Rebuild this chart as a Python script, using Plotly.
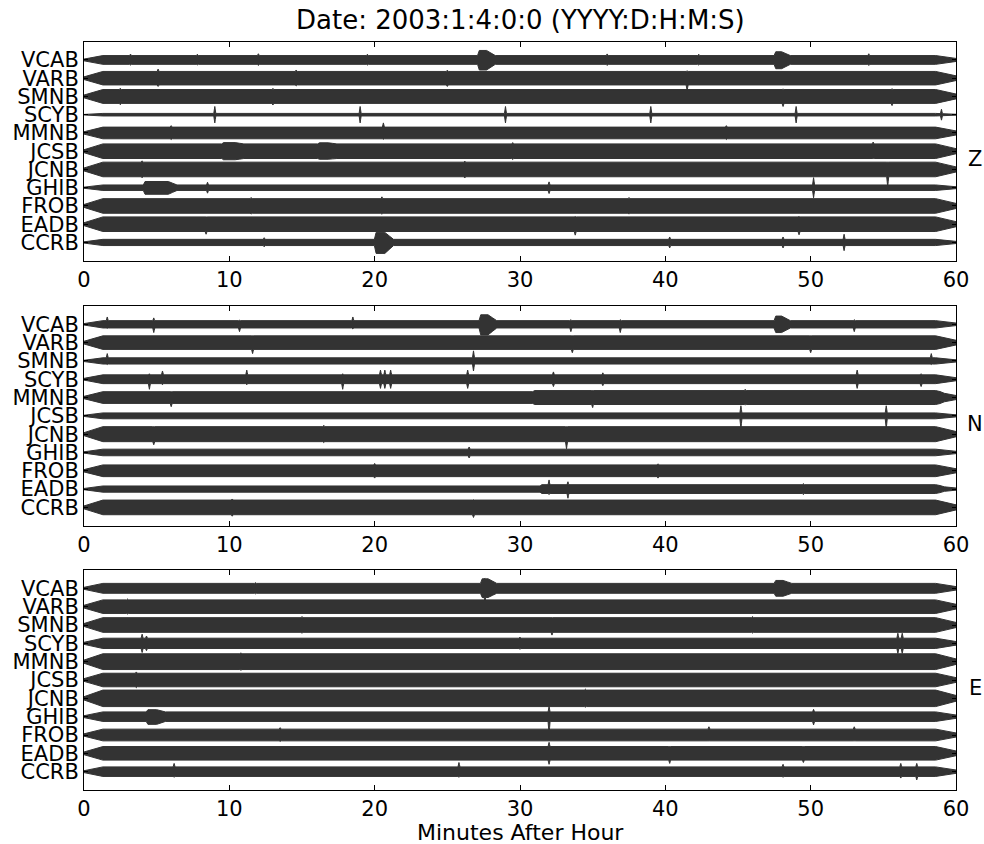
import plotly.graph_objects as go

# ---------------- data ----------------
STATIONS = ["VCAB", "VARB", "SMNB", "SCYB", "MMNB", "JCSB",
            "JCNB", "GHIB", "FROB", "EADB", "CCRB"]          # top -> bottom
COMPONENTS = ["Z", "N", "E"]
X_TICKS = [0, 10, 20, 30, 40, 50, 60]
TITLE = "Date: 2003:1:4:0:0 (YYYY:D:H:M:S)"
X_LABEL = "Minutes After Hour"

# typical half-amplitude of each trace (in units of trace spacing), per component
Z_AMP = [0.24, 0.37, 0.38, 0.07, 0.32, 0.40, 0.40, 0.15, 0.40, 0.40, 0.17]
N_AMP = [0.20, 0.37, 0.17, 0.24, 0.32, 0.16, 0.41, 0.18, 0.32, 0.17, 0.40]
E_AMP = [0.27, 0.37, 0.40, 0.28, 0.43, 0.37, 0.45, 0.26, 0.32, 0.37, 0.26]

# impulsive arrivals and small bursts: (station, minute, up, down)
Z_SPIKES = [
    ("VCAB", 3.2, 0.32, 0.28), ("VCAB", 7.8, 0.31, 0.27), ("VCAB", 12.0, 0.34, 0.30),
    ("VCAB", 19.5, 0.31, 0.28), ("VCAB", 36.0, 0.33, 0.30), ("VCAB", 42.3, 0.31, 0.28),
    ("VCAB", 54.0, 0.34, 0.30),
    ("VARB", 5.1, 0.50, 0.45), ("VARB", 14.6, 0.45, 0.42), ("VARB", 25.0, 0.44, 0.45),
    ("VARB", 41.5, 0.40, 0.67),
    ("SMNB", 2.5, 0.45, 0.45), ("SMNB", 13.0, 0.44, 0.47), ("SMNB", 48.1, 0.40, 0.55),
    ("SMNB", 55.6, 0.42, 0.50),
    ("SCYB", 9.0, 0.45, 0.45), ("SCYB", 19.0, 0.45, 0.45), ("SCYB", 29.0, 0.45, 0.45),
    ("SCYB", 39.0, 0.45, 0.45), ("SCYB", 49.0, 0.45, 0.45), ("SCYB", 59.0, 0.30, 0.30),
    ("MMNB", 6.0, 0.40, 0.36), ("MMNB", 20.6, 0.55, 0.35), ("MMNB", 44.2, 0.40, 0.36),
    ("JCSB", 29.5, 0.47, 0.45), ("JCSB", 54.3, 0.50, 0.40),
    ("JCNB", 4.0, 0.47, 0.46), ("JCNB", 26.2, 0.46, 0.47), ("JCNB", 55.3, 0.40, 0.95),
    ("GHIB", 8.5, 0.30, 0.30), ("GHIB", 32.0, 0.32, 0.32), ("GHIB", 50.2, 0.55, 0.55),
    ("FROB", 11.5, 0.46, 0.44), ("FROB", 20.5, 0.50, 0.45), ("FROB", 37.5, 0.46, 0.44),
    ("EADB", 8.4, 0.40, 0.55), ("EADB", 33.8, 0.42, 0.60), ("EADB", 49.2, 0.42, 0.58),
    ("CCRB", 12.4, 0.26, 0.24), ("CCRB", 40.3, 0.30, 0.30), ("CCRB", 48.1, 0.30, 0.30),
    ("CCRB", 52.3, 0.45, 0.45),
]
N_SPIKES = [
    ("VCAB", 1.6, 0.40, 0.22), ("VCAB", 4.8, 0.35, 0.45), ("VCAB", 10.7, 0.22, 0.40),
    ("VCAB", 18.5, 0.40, 0.25), ("VCAB", 33.5, 0.25, 0.40), ("VCAB", 36.9, 0.25, 0.45),
    ("VCAB", 53.0, 0.25, 0.40),
    ("VARB", 11.6, 0.37, 0.60), ("VARB", 33.6, 0.37, 0.55), ("VARB", 50.0, 0.37, 0.55),
    ("SMNB", 1.6, 0.40, 0.20), ("SMNB", 26.8, 0.55, 0.55), ("SMNB", 58.3, 0.40, 0.20),
    ("SCYB", 4.5, 0.30, 0.55), ("SCYB", 5.4, 0.45, 0.30), ("SCYB", 11.2, 0.50, 0.30),
    ("SCYB", 17.8, 0.30, 0.55), ("SCYB", 20.4, 0.50, 0.50), ("SCYB", 20.7, 0.50, 0.50),
    ("SCYB", 21.1, 0.50, 0.50), ("SCYB", 26.4, 0.50, 0.50), ("SCYB", 32.3, 0.40, 0.40),
    ("SCYB", 35.7, 0.35, 0.35), ("SCYB", 53.2, 0.50, 0.50), ("SCYB", 57.6, 0.30, 0.40),
    ("MMNB", 6.0, 0.32, 0.50), ("MMNB", 35.0, 0.38, 0.55), ("MMNB", 45.5, 0.45, 0.40),
    ("JCSB", 45.2, 0.55, 0.70), ("JCSB", 55.2, 0.55, 0.70),
    ("JCNB", 4.8, 0.41, 0.58), ("JCNB", 16.5, 0.48, 0.46), ("JCNB", 33.2, 0.41, 0.80),
    ("GHIB", 26.5, 0.30, 0.30),
    ("FROB", 20.0, 0.40, 0.40), ("FROB", 39.5, 0.38, 0.40),
    ("EADB", 32.0, 0.50, 0.30), ("EADB", 33.3, 0.40, 0.50), ("EADB", 49.5, 0.30, 0.30),
    ("CCRB", 10.2, 0.46, 0.48), ("CCRB", 26.8, 0.42, 0.55),
]
E_SPIKES = [
    ("VCAB", 27.6, 0.55, 0.75), ("VCAB", 11.8, 0.31, 0.30),
    ("VARB", 3.0, 0.42, 0.40),
    ("SMNB", 15.0, 0.46, 0.45), ("SMNB", 32.2, 0.40, 0.55), ("SMNB", 46.0, 0.46, 0.44),
    ("SCYB", 4.0, 0.50, 0.50), ("SCYB", 4.3, 0.40, 0.40), ("SCYB", 30.0, 0.34, 0.32),
    ("SCYB", 56.0, 0.55, 0.55), ("SCYB", 56.3, 0.55, 0.55),
    ("MMNB", 10.8, 0.48, 0.47),
    ("JCSB", 3.6, 0.44, 0.42),
    ("JCNB", 34.5, 0.50, 0.48),
    ("GHIB", 32.0, 0.55, 0.95), ("GHIB", 50.2, 0.40, 0.45),
    ("FROB", 13.5, 0.40, 0.35), ("FROB", 43.0, 0.45, 0.32), ("FROB", 53.0, 0.45, 0.32),
    ("EADB", 32.0, 0.60, 0.60), ("EADB", 40.3, 0.37, 0.55), ("EADB", 49.5, 0.37, 0.50),
    ("CCRB", 6.2, 0.45, 0.30), ("CCRB", 25.8, 0.50, 0.30), ("CCRB", 48.1, 0.40, 0.30),
    ("CCRB", 56.2, 0.45, 0.35), ("CCRB", 57.3, 0.45, 0.45),
]

# emergent wave packets / changes of noise level: (station, start, end, up, down)
Z_PACKETS = [
    ("VCAB", 27.2, 27.7, 0.52, 0.55), ("VCAB", 47.6, 48.0, 0.45, 0.48),
    ("JCSB", 9.6, 10.4, 0.47, 0.47), ("JCSB", 16.2, 16.8, 0.46, 0.44),
    ("GHIB", 4.2, 5.8, 0.34, 0.36),
    ("CCRB", 20.1, 20.7, 0.55, 0.60),
]
N_PACKETS = [
    ("VCAB", 27.3, 27.8, 0.52, 0.58), ("VCAB", 47.6, 48.0, 0.45, 0.45),
    ("MMNB", 31.0, 58.6, 0.38, 0.38),
    ("EADB", 31.5, 58.6, 0.24, 0.24),
]
E_PACKETS = [
    ("VCAB", 27.4, 27.8, 0.52, 0.50), ("VCAB", 47.6, 48.1, 0.43, 0.43),
    ("GHIB", 4.4, 5.0, 0.38, 0.42),
]

# ---------------- geometry helpers (style only) ----------------
TAPER_START, TAPER_END = 1.3, 58.6
SPIKE_RAMP = 0.07
ONSET_RAMP, DECAY_RAMP = 0.12, 0.6
FONT = "DejaVu Sans"
TRACE_COLOR = "#333333"

def base_factor(t):
    if t < TAPER_START:
        return 0.2 + 0.8 * t / TAPER_START
    if t > TAPER_END:
        return 1.0 - 0.65 * (t - TAPER_END) / (60 - TAPER_END)
    return 1.0

def window(t, a, b, r_on, r_off):
    if a <= t <= b:
        return 1.0
    if t < a:
        return max(0.0, 1.0 - (a - t) / r_on)
    return max(0.0, 1.0 - (t - b) / r_off)

def envelope(amp, items):
    ts = {0.0, TAPER_START, TAPER_END, 60.0}
    for (a, b, up, dn, r_on, r_off) in items:
        for v in (a - r_on, a, b, b + r_off / 2, b + r_off):
            if 0 <= v <= 60:
                ts.add(round(v, 4))
    ts = sorted(ts)
    ups, dns = [], []
    for t in ts:
        base = amp * base_factor(t)
        u = d = base
        for (a, b, up, dn, r_on, r_off) in items:
            w = window(t, a, b, r_on, r_off)
            if w > 0:
                u = max(u, base + (up - base) * w)
                d = max(d, base + (dn - base) * w)
        ups.append(u)
        dns.append(d)
    return ts, ups, dns

fig = go.Figure()

PANEL_DATA = [(Z_AMP, Z_SPIKES, Z_PACKETS), (N_AMP, N_SPIKES, N_PACKETS),
              (E_AMP, E_SPIKES, E_PACKETS)]
H = 844.0
PANEL_PX = [(41.7, 260.7), (306.0, 525.7), (570.0, 790.0)]

for p, (amps, spikes, packets) in enumerate(PANEL_DATA):
    xa = "x" if p == 0 else f"x{p+1}"
    ya = "y" if p == 0 else f"y{p+1}"
    for i, st in enumerate(STATIONS):
        pos = len(STATIONS) - 1 - i
        items = [(m, m, u, d, SPIKE_RAMP, SPIKE_RAMP) for (s, m, u, d) in spikes if s == st]
        items += [(a, b, u, d, ONSET_RAMP, DECAY_RAMP) for (s, a, b, u, d) in packets if s == st]
        ts, ups, dns = envelope(amps[i], items)
        xs = ts + ts[::-1] + [ts[0]]
        ys = [pos + u for u in ups] + [pos - d for d in dns[::-1]] + [pos + ups[0]]
        fig.add_trace(go.Scatter(
            x=xs, y=ys, mode="lines", fill="toself", fillcolor=TRACE_COLOR,
            line=dict(color=TRACE_COLOR, width=1, simplify=False),
            hoverinfo="skip", showlegend=False, xaxis=xa, yaxis=ya))

layout = dict(width=984, height=844, plot_bgcolor="white", paper_bgcolor="white",
              margin=dict(l=84, r=28, t=0, b=0), showlegend=False,
              font=dict(family=FONT, size=21, color="black"))
tickfont = dict(family=FONT, size=21, color="black")
for p in range(3):
    top, bot = PANEL_PX[p]
    sx = "" if p == 0 else str(p + 1)
    layout["xaxis" + sx] = dict(
        domain=[0, 1], range=[0, 60], anchor="y" + sx, tickvals=X_TICKS,
        ticktext=[str(v) for v in X_TICKS], ticks="inside", ticklen=5,
        tickcolor="black", showline=True, linecolor="black", linewidth=1,
        mirror="allticks", showgrid=False, zeroline=False, tickfont=tickfont)
    layout["yaxis" + sx] = dict(
        domain=[1 - bot / H, 1 - top / H], range=[-1, 11], anchor="x" + sx,
        tickvals=list(range(len(STATIONS))), ticktext=STATIONS[::-1],
        ticks="inside", ticklen=4, tickcolor="black", showline=True,
        linecolor="black", linewidth=1, mirror="allticks", showgrid=False,
        zeroline=False, tickfont=tickfont, fixedrange=True)

annotations = [
    dict(text=TITLE, x=0.5, y=1 - 20 / H, xref="paper", yref="paper",
         xanchor="center", yanchor="middle", showarrow=False,
         font=dict(family=FONT, size=26, color="black")),
    dict(text=X_LABEL, x=0.5, y=1 - 832 / H, xref="paper", yref="paper",
         xanchor="center", yanchor="middle", showarrow=False,
         font=dict(family=FONT, size=22, color="black")),
]
for p, comp in enumerate(COMPONENTS):
    top, bot = PANEL_PX[p]
    yc = (top + bot) / 2 + 8
    annotations.append(dict(text=comp, x=(975 - 84) / 872.0, y=1 - yc / H,
                            xref="paper", yref="paper", xanchor="center",
                            yanchor="middle", showarrow=False,
                            font=dict(family=FONT, size=21, color="black")))
layout["annotations"] = annotations
fig.update_layout(**layout)

fig.write_html("out.html")
